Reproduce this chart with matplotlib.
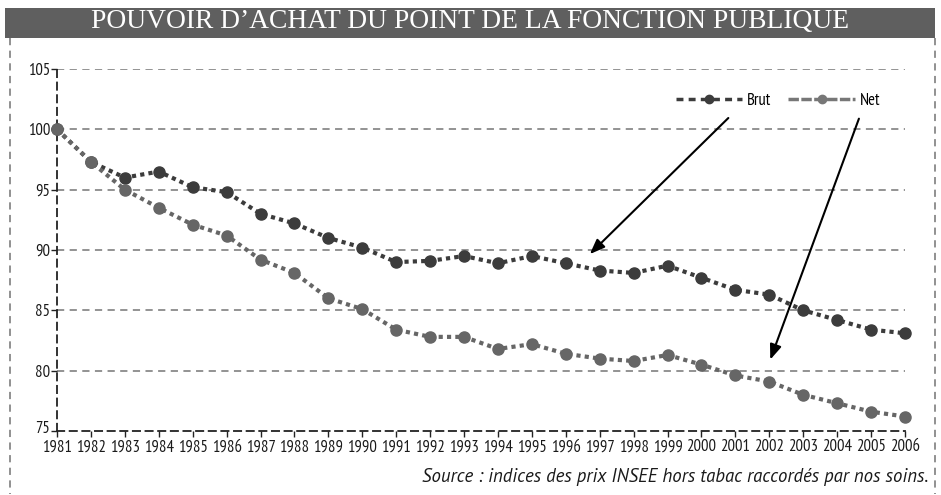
import matplotlib
matplotlib.use("Agg")
import matplotlib.pyplot as plt
import matplotlib.transforms as mtransforms
from matplotlib.lines import Line2D
from matplotlib.patches import Rectangle

years = list(range(1981, 2007))
brut = [100.0, 97.3, 96.0, 96.5, 95.2, 94.8, 93.0, 92.2, 91.0, 90.2,
        89.0, 89.1, 89.5, 88.9, 89.5, 88.9, 88.3, 88.1, 88.7, 87.7,
        86.7, 86.3, 85.0, 84.2, 83.4, 83.1]
net = [100.0, 97.3, 95.0, 93.5, 92.1, 91.2, 89.2, 88.1, 86.0, 85.1,
       83.4, 82.8, 82.8, 81.8, 82.2, 81.4, 81.0, 80.8, 81.3, 80.5,
       79.6, 79.1, 78.0, 77.3, 76.6, 76.2]
yticks = [75, 80, 85, 90, 95, 100, 105]
title = "POUVOIR D\u2019ACHAT DU POINT DE LA FONCTION PUBLIQUE"
source = "Source : indices des prix INSEE hors tabac raccord\u00e9s par nos soins."

NARROW = ["PT Sans Narrow", "DejaVu Sans"]

W, H = 941, 495
fig = plt.figure(figsize=(W / 100, H / 100), dpi=100)
fig.patch.set_facecolor("white")

# Title banner
fig.patches.append(Rectangle((5 / W, 1 - 38 / H), 930 / W, 30 / H,
                             transform=fig.transFigure, facecolor="#5f5f5f",
                             edgecolor="none", zorder=0))
fig.text(0.5, 1 - 22 / H, title, color="white", ha="center", va="center",
         family="Liberation Serif", fontsize=19.8)

# Dashed frame around chart
frame_kw = dict(transform=fig.transFigure, color="#888888", lw=1.3,
                linestyle=(0, (4, 3)))
fig.lines.append(Line2D([10 / W, 10 / W], [1 - 38 / H, 1 - 494 / H], **frame_kw))
fig.lines.append(Line2D([935 / W, 935 / W], [1 - 38 / H, 1 - 494 / H], **frame_kw))

ax = fig.add_axes([57 / W, 1 - 431 / H, 848 / W, 362 / H])
ax.set_xlim(1981, 2006)
ax.set_ylim(75, 105)

ax.set_yticks(yticks)
ax.set_xticks(years)
ax.set_xticklabels([str(y) for y in years])
for lab in ax.get_xticklabels() + ax.get_yticklabels():
    lab.set_family(NARROW)
    lab.set_fontsize(12)
    lab.set_color("#1a1a1a")
ax.tick_params(axis="both", direction="out", length=4, width=1, color="#222222", pad=1)
ax.tick_params(axis="x", pad=2)
# lift the lowest y label slightly so it clears the year labels
lab75 = ax.get_yticklabels()[0]
lab75.set_transform(lab75.get_transform() +
                    mtransforms.ScaledTranslation(0, 4 / 100, fig.dpi_scale_trans))

for yv in yticks[1:]:
    ax.axhline(yv, color="#8a8a8a", lw=1.3, linestyle=(0, (4, 3)), zorder=1)

for s in ["top", "right"]:
    ax.spines[s].set_visible(False)
for s in ["left", "bottom"]:
    ax.spines[s].set_linestyle((0, (4, 3)))
    ax.spines[s].set_linewidth(1.3)
    ax.spines[s].set_color("#222222")

ax.plot(years, brut, color="#3c3c3c", lw=3, linestyle=(0, (1, 1)),
        marker="o", markersize=8, clip_on=False, zorder=3)
ax.plot(years, net, color="#666666", lw=3, linestyle=(0, (1, 1)),
        marker="o", markersize=8, clip_on=False, zorder=3)

# Legend
h1 = Line2D([], [], color="#3c3c3c", lw=2.5, linestyle=(0, (2, 1.5)),
            marker="o", markersize=6)
h2 = Line2D([], [], color="#777777", lw=2.5, linestyle=(0, (3, 0.7)),
            marker="o", markersize=6)
leg = ax.legend([h1, h2], ["Brut", "Net"], ncol=2, frameon=False,
                loc="center", bbox_to_anchor=((778 - 57) / 848, (431 - 101) / 362),
                handlelength=4.0, columnspacing=1.0, handletextpad=0.3,
                prop={"family": NARROW, "size": 12})

# Arrows
ax.annotate("", xy=(1996.65, 89.5), xytext=(2000.85, 101.1),
            arrowprops=dict(arrowstyle="-|>,head_length=0.9,head_width=0.35",
                            color="black", lw=1.5))
ax.annotate("", xy=(2002.0, 80.7), xytext=(2004.67, 101.1),
            arrowprops=dict(arrowstyle="-|>,head_length=0.9,head_width=0.35",
                            color="black", lw=1.5))

fig.text(928 / W, 1 - 477 / H, source, ha="right", va="center",
         family=["PT Sans", "DejaVu Sans"], style="italic", fontsize=13.5,
         color="#1a1a1a")

fig.savefig("out.png", dpi=100)
